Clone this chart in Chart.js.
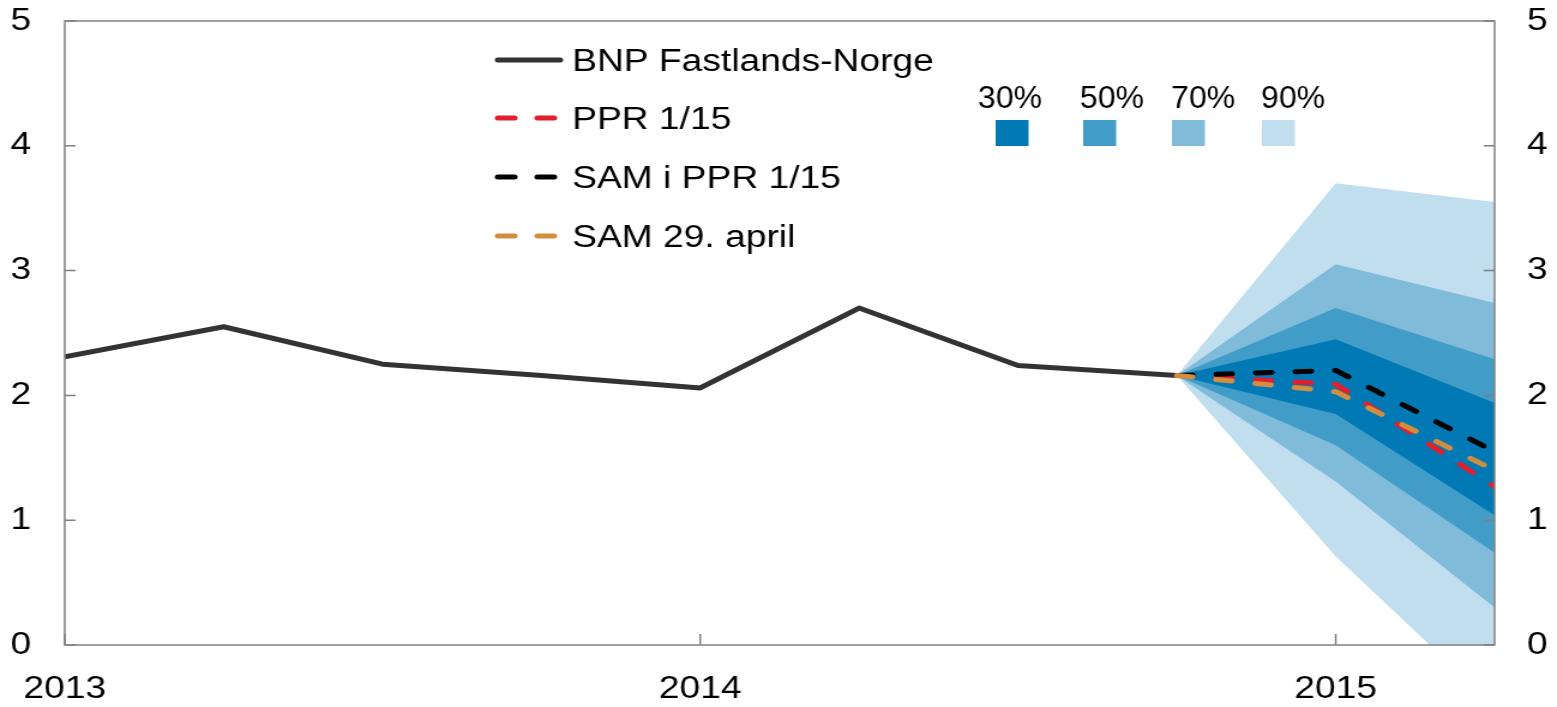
<!DOCTYPE html>
<html>
<head>
<meta charset="utf-8">
<script src="https://cdn.jsdelivr.net/npm/chart.js@4"></script>
<style>
  html, body { margin: 0; padding: 0; background: #fff; overflow: hidden; }
  /* the reference text is wide, so draw narrower and stretch sideways */
  #wrap { width: 1298px; height: 707px; transform: scaleX(1.1995); transform-origin: 0 0; }
</style>
</head>
<body>
<div id="wrap"><canvas id="fanChart"></canvas></div>
<script>
// BNP Fastlands-Norge, quarterly, with forecasts and fan
const quarters = [2013, 2013.25, 2013.5, 2013.75, 2014, 2014.25, 2014.5, 2014.75];
const bnpFastland = [2.31, 2.55, 2.25, 2.16, 2.06, 2.70, 2.24, 2.16];

const forecastQuarters = [2014.75, 2015, 2015.25];
const ppr115 = [2.16, 2.09, 1.27];
const samPpr115 = [2.16, 2.20, 1.55];
const sam29April = [2.16, 2.03, 1.40];

const upper90 = [2.16, 3.70, 3.55];
const upper70 = [2.16, 3.05, 2.74];
const upper50 = [2.16, 2.70, 2.29];
const upper30 = [2.16, 2.45, 1.94];
const lower30 = [2.16, 1.85, 1.04];
const lower50 = [2.16, 1.60, 0.74];
const lower70 = [2.16, 1.31, 0.30];
const lower90 = [2.16, 0.71, -0.49];

const yearTicks = [2013, 2014, 2015];
const yTicks = [0, 1, 2, 3, 4, 5];
const bandLabels = ['30%', '50%', '70%', '90%'];
const bandColors = ['#0079b5', '#429cc8', '#80bbd9', '#c1deee'];

const FONT = '"Liberation Sans", Arial, sans-serif';
const DASH = [13, 20];

function zip(xs, ys) {
    return xs.map((x, i) => ({ x: x, y: ys[i] }));
}

function line(label, xs, ys, color, dash, order) {
    return {
        label: label,
        data: zip(xs, ys),
        borderColor: color,
        borderWidth: 5,
        borderDash: dash,
        borderCapStyle: dash.length ? 'round' : 'butt',
        borderJoinStyle: 'round',
        pointRadius: 0,
        fill: false,
        tension: 0,
        order: order
    };
}

const datasets = [
    line('BNP Fastlands-Norge', quarters, bnpFastland, '#333333', [], 3),
    line('PPR 1/15', forecastQuarters, ppr115, '#e0202e', DASH, 2),
    line('SAM i PPR 1/15', forecastQuarters, samPpr115, '#000000', DASH, 1),
    line('SAM 29. april', forecastQuarters, sam29April, '#d38d3f', DASH, 0)
];

const bands = [
    [upper90, lower90, bandColors[3]],
    [upper70, lower70, bandColors[2]],
    [upper50, lower50, bandColors[1]],
    [upper30, lower30, bandColors[0]]
];
bands.forEach(([hi, lo, color], i) => {
    datasets.push({
        data: zip(forecastQuarters, hi),
        fill: '+1',
        backgroundColor: color,
        borderColor: 'transparent',
        borderWidth: 0,
        pointRadius: 0,
        order: 40 - i * 10
    });
    datasets.push({
        data: zip(forecastQuarters, lo),
        fill: false,
        borderColor: 'transparent',
        borderWidth: 0,
        pointRadius: 0,
        order: 40 - i * 10
    });
});

// box, inward ticks and the two legends
const frame = {
    id: 'frame',
    afterDatasetsDraw(chart) {
        const { ctx, chartArea: a, scales } = chart;
        ctx.save();
        ctx.strokeStyle = '#808080';
        ctx.lineWidth = 1.5;
        ctx.strokeRect(a.left, a.top, a.right - a.left, a.bottom - a.top);
        ctx.beginPath();
        yTicks.forEach(v => {
            const y = scales.y.getPixelForValue(v);
            ctx.moveTo(a.left, y); ctx.lineTo(a.left + 9, y);
            ctx.moveTo(a.right, y); ctx.lineTo(a.right - 9, y);
        });
        yearTicks.forEach(v => {
            const x = scales.x.getPixelForValue(v);
            ctx.moveTo(x, a.bottom); ctx.lineTo(x, a.bottom - 11);
        });
        ctx.stroke();

        // series legend
        ctx.font = '31px ' + FONT;
        ctx.fillStyle = '#000';
        ctx.textAlign = 'left';
        ctx.textBaseline = 'alphabetic';
        const rows = [60, 118, 177, 236];
        datasets.slice(0, 4).forEach((ds, i) => {
            const y = rows[i];
            ctx.strokeStyle = ds.borderColor;
            ctx.lineWidth = 5;
            ctx.lineCap = 'round';
            ctx.beginPath();
            if (ds.borderDash.length) {
                ctx.moveTo(415, y); ctx.lineTo(429, y);
                ctx.moveTo(448, y); ctx.lineTo(462, y);
            } else {
                ctx.moveTo(415, y); ctx.lineTo(467, y);
            }
            ctx.stroke();
            ctx.fillText(ds.label, 477, y + 11);
        });

        // fan legend
        const boxX = [830, 903, 977, 1052];
        const textX = [842, 927, 1003, 1078];
        bandLabels.forEach((lab, i) => {
            ctx.fillStyle = bandColors[i];
            ctx.fillRect(boxX[i], 120, 27.5, 26);
            ctx.save();
            ctx.translate(textX[i], 108);
            ctx.scale(0.86, 1);
            ctx.fillStyle = '#000';
            ctx.textAlign = 'center';
            ctx.fillText(lab, 0, 0);
            ctx.restore();
        });
        ctx.restore();
    }
};

const yAxis = (position, padding, width) => ({
    type: 'linear',
    position: position,
    min: 0,
    max: 5,
    afterBuildTicks: s => { s.ticks = yTicks.map(v => ({ value: v })); },
    afterFit: s => { s.width = width; s.paddingTop = 0; s.paddingBottom = 0; },
    grid: { display: false, drawTicks: false },
    border: { display: false },
    ticks: { color: '#000', font: { family: FONT, size: 31 }, padding: padding }
});

new Chart(document.getElementById('fanChart'), {
    type: 'line',
    data: { datasets: datasets },
    options: {
        responsive: true,
        maintainAspectRatio: false,
        animation: false,
        devicePixelRatio: 1,
        layout: { padding: { top: 21, left: 0, right: 0, bottom: 0 } },
        scales: {
            x: {
                type: 'linear',
                min: 2013,
                max: 2015.25,
                afterBuildTicks: s => { s.ticks = yearTicks.map(v => ({ value: v })); },
                afterFit: s => { s.height = 62; s.paddingLeft = 0; s.paddingRight = 0; },
                grid: { display: false, drawTicks: false },
                border: { display: false },
                ticks: {
                    color: '#000',
                    font: { family: FONT, size: 31 },
                    padding: 26,
                    maxRotation: 0,
                    autoSkip: false,
                    callback: v => String(v)
                }
            },
            y: yAxis('left', 28, 54),
            y2: yAxis('right', 27, 52)
        },
        plugins: {
            legend: { display: false },
            tooltip: { enabled: false }
        }
    },
    plugins: [frame]
});
</script>
</body>
</html>
